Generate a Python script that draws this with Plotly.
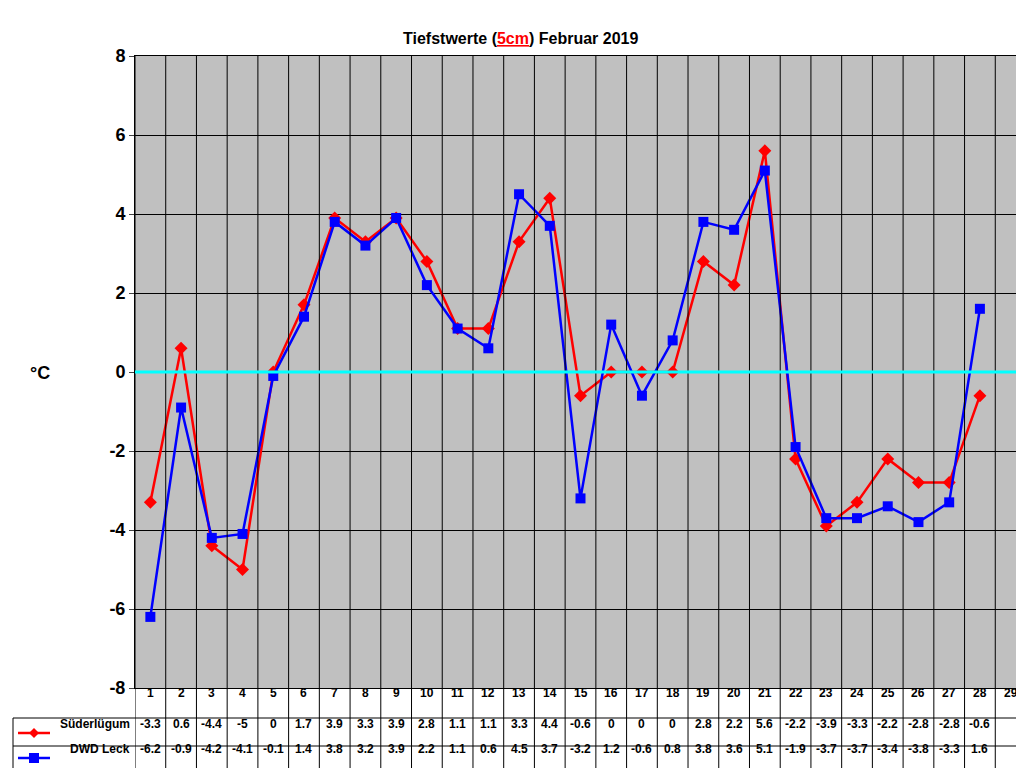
import plotly.graph_objects as go

days = list(range(1, 30))
sued = [-3.3,0.6,-4.4,-5,0,1.7,3.9,3.3,3.9,2.8,1.1,1.1,3.3,4.4,-0.6,0,0,0,2.8,2.2,5.6,-2.2,-3.9,-3.3,-2.2,-2.8,-2.8,-0.6,None]
leck = [-6.2,-0.9,-4.2,-4.1,-0.1,1.4,3.8,3.2,3.9,2.2,1.1,0.6,4.5,3.7,-3.2,1.2,-0.6,0.8,3.8,3.6,5.1,-1.9,-3.7,-3.7,-3.4,-3.8,-3.3,1.6,None]
yticks = list(range(-8, 9, 2))

W, H = 1024, 768
L, R, T, B = 127, 1018, 48, 680
def px(xp): return (xp - L) / (R - L)
def py(yp): return (B - yp) / (B - T)

fig = go.Figure()
fig.add_trace(go.Scatter(x=days, y=sued, mode="lines+markers", name="Süderlügum",
    line=dict(color="#FF0000", width=2.5), marker=dict(symbol="diamond", size=10, color="#FF0000")))
fig.add_trace(go.Scatter(x=days, y=leck, mode="lines+markers", name="DWD Leck",
    line=dict(color="#0000FF", width=2.5), marker=dict(symbol="square", size=10, color="#0000FF")))

shapes = []
# vertical grid + table vertical lines
for k in range(0, 30):
    xb = k + 0.5
    shapes.append(dict(type="line", xref="x", yref="paper", x0=xb, x1=xb, y0=py(762), y1=1,
                       line=dict(color="black", width=1)))
# zero line
shapes.append(dict(type="line", xref="paper", yref="y", x0=0, x1=1, y0=0, y1=0,
                   line=dict(color="#00FFFF", width=3)))
# table horizontal lines
for yp in (710, 738, 762):
    shapes.append(dict(type="line", xref="paper", yref="paper", x0=px(5), x1=1, y0=py(yp), y1=py(yp),
                       line=dict(color="black", width=1)))
shapes.append(dict(type="line", xref="paper", yref="paper", x0=px(5), x1=px(5), y0=py(762), y1=py(710),
                   line=dict(color="black", width=1)))
# legend keys
for yp, col, sym in ((725, "#FF0000", "d"), (750, "#0000FF", "s")):
    shapes.append(dict(type="line", xref="paper", yref="paper", x0=px(10), x1=px(42), y0=py(yp), y1=py(yp),
                       line=dict(color=col, width=2.5)))
    cx, cy = px(26), py(yp)
    dx, dy = 5 / (R - L), 5 / (B - T)
    if sym == "d":
        path = f"M {cx-dx} {cy} L {cx} {cy+dy} L {cx+dx} {cy} L {cx} {cy-dy} Z"
    else:
        path = f"M {cx-dx} {cy-dy} L {cx-dx} {cy+dy} L {cx+dx} {cy+dy} L {cx+dx} {cy-dy} Z"
    shapes.append(dict(type="path", xref="paper", yref="paper", path=path, fillcolor=col,
                       line=dict(color=col, width=0)))

ann = []
f = dict(family="Liberation Sans, Arial", size=12, color="black")
for i, d in enumerate(days):
    ann.append(dict(x=d, y=py(694), xref="x", yref="paper", text=f"<b>{d}</b>", showarrow=False, font=f))
    for vals, yp in ((sued, 725), (leck, 750)):
        v = vals[i]
        if v is not None:
            t = f"{v:g}"
            ann.append(dict(x=d, y=py(yp), xref="x", yref="paper", text=f"<b>{t}</b>", showarrow=False, font=f))
ann.append(dict(x=px(124), y=py(725), xref="paper", yref="paper", xanchor="right", text="<b>Süderlügum</b>", showarrow=False, font=f))
ann.append(dict(x=px(124), y=py(750), xref="paper", yref="paper", xanchor="right", text="<b>DWD Leck</b>", showarrow=False, font=f))
ann.append(dict(x=px(20), y=py(365), xref="paper", yref="paper", text="<b>°C</b>", showarrow=False,
                font=dict(family="Liberation Sans, Arial", size=18, color="black")))
ann.append(dict(x=0.5 * (0 + 1) * 0 + px(512), y=py(20), xref="paper", yref="paper",
                text="<b>Tiefstwerte (<span style='color:#FF0000'><u>5cm</u></span>) Februar 2019</b>",
                showarrow=False, font=dict(family="Liberation Sans, Arial", size=16, color="black")))

fig.update_layout(
    width=W, height=H, margin=dict(l=L, r=W - R, t=T, b=H - B),
    paper_bgcolor="white", plot_bgcolor="#C0C0C0", showlegend=False,
    xaxis=dict(range=[0.5, 29.5], showticklabels=False, showgrid=False, zeroline=False,
               showline=True, linecolor="black", mirror=True, ticks=""),
    yaxis=dict(range=[-8, 8], tickvals=yticks, ticktext=[f"<b>{v}</b>" for v in yticks],
               showgrid=True, gridcolor="black", gridwidth=1, zeroline=False,
               showline=True, linecolor="black", mirror=True, ticks="outside", ticklen=5,
               tickfont=dict(family="Liberation Sans, Arial", size=18, color="black")),
    shapes=shapes, annotations=ann,
)
fig.write_html("out.html")
